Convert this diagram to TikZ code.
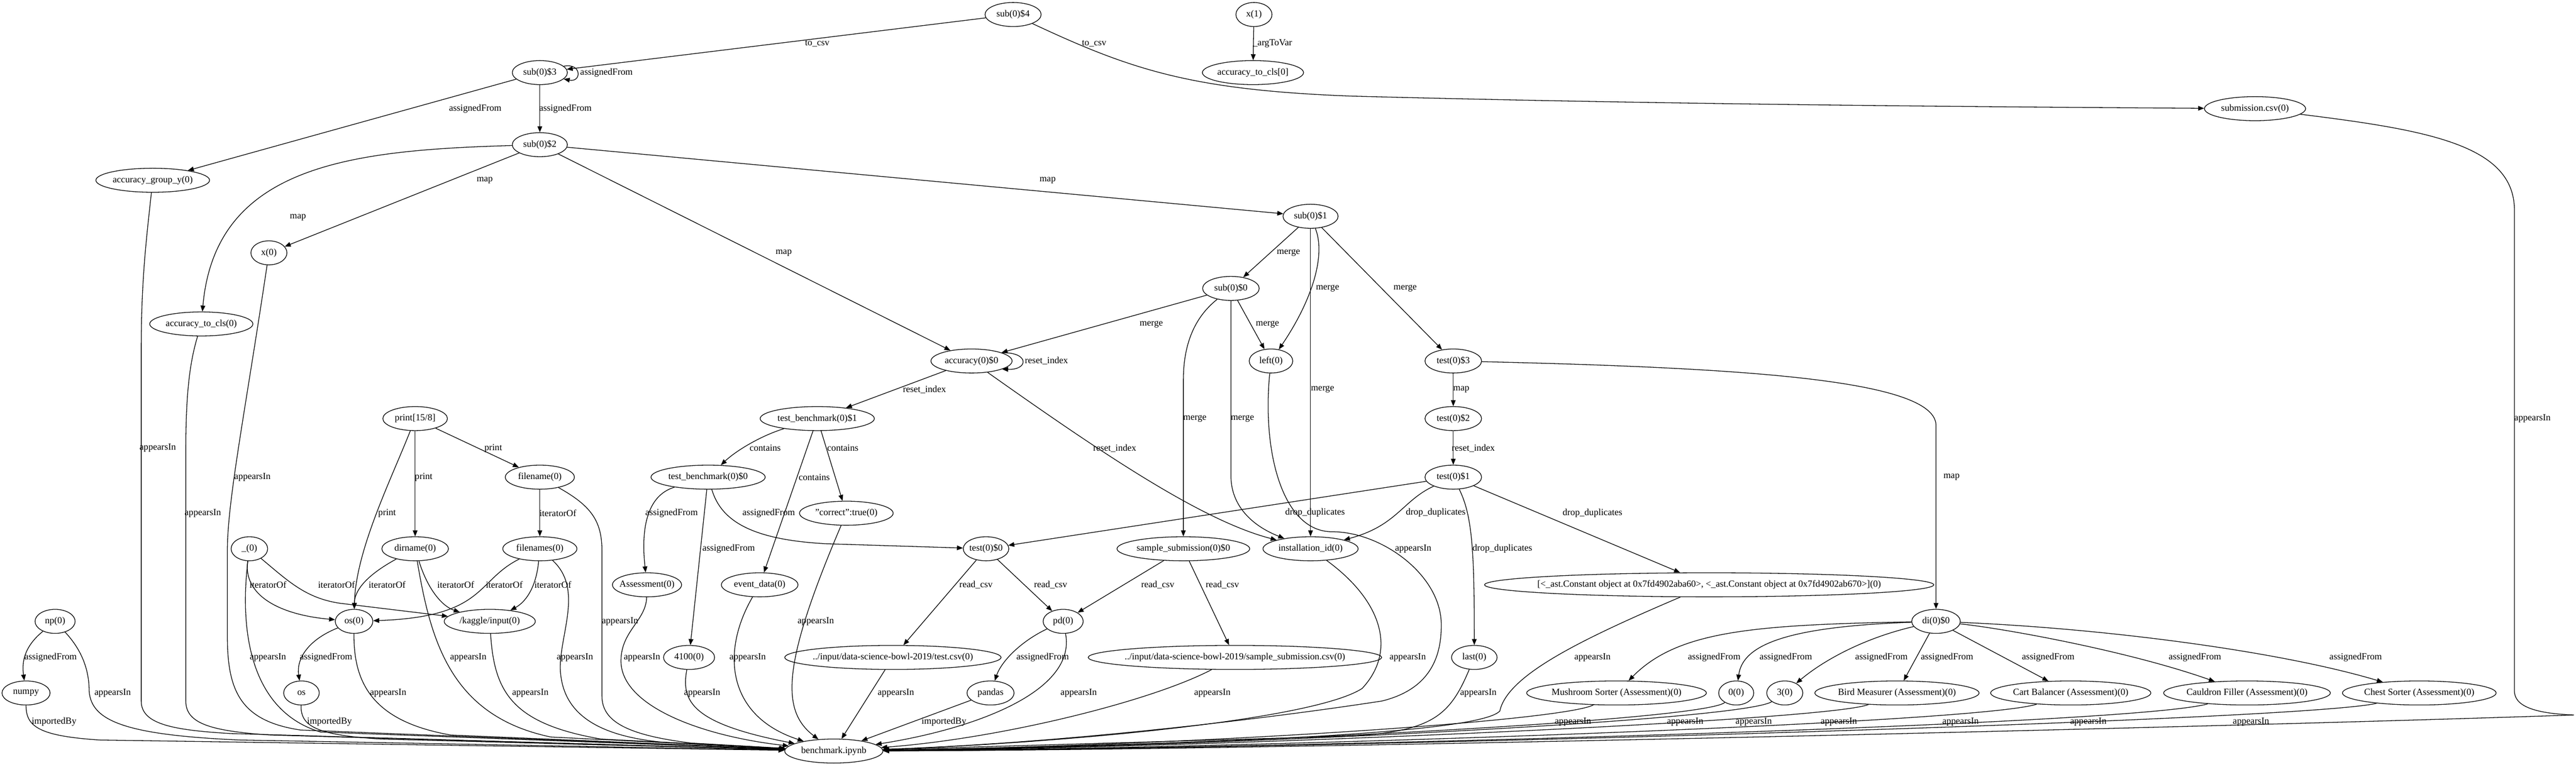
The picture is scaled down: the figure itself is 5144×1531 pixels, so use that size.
\documentclass[tikz,border=0pt]{standalone}
\usepackage{fontspec}
\setmainfont{Liberation Serif}
\usetikzlibrary{arrows.meta,shapes.geometric}

\begin{document}
\begin{tikzpicture}[x=0.75pt,y=-0.75pt,
  v/.style={ellipse,draw,line width=1pt,inner xsep=-20pt,inner ysep=0pt,minimum height=36pt,minimum width=54pt,font=\fontsize{14}{16.8}\selectfont},
  wd/.style={minimum width=#1*0.75pt},
  arr/.style={line width=1pt,-{Triangle[length=9pt,width=7pt]}},
  lab/.style={font=\fontsize{14}{16.8}\selectfont,inner sep=0pt}]
        \useasboundingbox (0,0) rectangle (5144,1531);
        \node[v,wd=112] (s4) at (2023,29) {sub(0)\$4};
        \node[v,wd=72] (x1) at (2504,29) {x(1)};
        \node[v,wd=202] (atcls) at (2502,145) {accuracy\_to\_cls[0]};
        \node[v,wd=110] (s3) at (1078,145) {sub(0)\$3};
        \node[v,wd=202] (subcsv) at (4503,217) {submission.csv(0)};
        \node[v,wd=110] (s2) at (1078,289) {sub(0)\$2};
        \node[v,wd=227] (agy) at (305,360) {accuracy\_group\_y(0)};
        \node[v,wd=110] (s1) at (2617,432) {sub(0)\$1};
        \node[v,wd=72] (x0) at (537,505) {x(0)};
        \node[v,wd=113] (s0) at (2458,576) {sub(0)\$0};
        \node[v,wd=206] (atc0) at (402,647) {accuracy\_to\_cls(0)};
        \node[v,wd=162] (acc) at (1940,721) {accuracy(0)\$0};
        \node[v,wd=87] (left) at (2538,721) {left(0)};
        \node[v,wd=113] (t3) at (2902,721) {test(0)\$3};
        \node[v,wd=129] (print) at (829,836) {print[15/8]};
        \node[v,wd=228] (tb1) at (1632,836) {test\_benchmark(0)\$1};
        \node[v,wd=113] (t2) at (2902,836) {test(0)\$2};
        \node[v,wd=138] (fname) at (1078,953) {filename(0)};
        \node[v,wd=228] (tb0) at (1414,953) {test\_benchmark(0)\$0};
        \node[v,wd=113] (t1) at (2902,953) {test(0)\$1};
        \node[v,wd=187] (corr) at (1690,1025) {"correct":true(0)};
        \node[v,wd=73] (us) at (498,1096) {\_(0)};
        \node[v,wd=133] (dname) at (829,1096) {dirname(0)};
        \node[v,wd=148] (fnames) at (1078,1096) {filenames(0)};
        \node[v,wd=91] (t0) at (1969,1096) {test(0)\$0};
        \node[v,wd=265] (ssub) at (2363,1096) {sample\_submission(0)\$0};
        \node[v,wd=190] (inst) at (2617,1096) {installation\_id(0)};
        \node[v,wd=138] (assess) at (1292,1168) {Assessment(0)};
        \node[v,wd=153] (event) at (1517,1168) {event\_data(0)};
        \node[v,wd=897] (ast) at (3413,1168) {[<\_ast.Constant object at 0x7fd4902aba60>, <\_ast.Constant object at 0x7fd4902ab670>](0)};
        \node[v,wd=80] (np) at (110,1241) {np(0)};
        \node[v,wd=75] (os0) at (707,1241) {os(0)};
        \node[v,wd=182] (kag) at (978,1241) {/kaggle/input(0)};
        \node[v,wd=80] (pd) at (2123,1241) {pd(0)};
        \node[v,wd=97] (di) at (3866,1241) {di(0)\$0};
        \node[v,wd=102] (n4100) at (1376,1313) {4100(0)};
        \node[v,wd=432] (tcsv) at (1783,1313) {../input/data-science-bowl-2019/test.csv(0)};
        \node[v,wd=586] (sscsv) at (2466,1313) {../input/data-science-bowl-2019/sample\_submission.csv(0)};
        \node[v,wd=91] (last) at (2944,1313) {last(0)};
        \node[v,wd=96] (numpy) at (52,1384) {numpy};
        \node[v,wd=71] (os) at (602,1384) {os};
        \node[v,wd=94] (pandas) at (1978,1384) {pandas};
        \node[v,wd=359] (mush) at (3228,1384) {Mushroom Sorter (Assessment)(0)};
        \node[v,wd=70] (z0) at (3467,1384) {0(0)};
        \node[v,wd=72] (three) at (3564,1384) {3(0)};
        \node[v,wd=328] (bird) at (3788,1384) {Bird Measurer (Assessment)(0)};
        \node[v,wd=320] (cart) at (4135,1384) {Cart Balancer (Assessment)(0)};
        \node[v,wd=333] (cauld) at (4487,1384) {Cauldron Filler (Assessment)(0)};
        \node[v,wd=307] (chest) at (4831,1384) {Chest Sorter (Assessment)(0)};
        \node[v,wd=196] (bench) at (1665,1500) {benchmark.ipynb};

        \draw[arr] (s4) -- (s3) node[lab,at={(1632,87)}] {to\_csv};
        \draw[arr] (s4) .. controls (2260,140) and (2380,180) .. (2700,192) .. controls (3300,208) and (3900,213) .. (subcsv) node[lab,at={(2185,87)}] {to\_csv};
        \draw[arr] (x1) -- (atcls) node[lab,at={(2541,87)}] {\_argToVar};
        \draw[arr] (s3.15) .. controls (1162,125) and (1162,165) .. (s3.-15) node[lab,anchor=west,at={(1158,145)}] {assignedFrom};
        \draw[arr] (s3) -- (agy) node[lab,at={(949,217)}] {assignedFrom};
        \draw[arr] (s3) -- (s2) node[lab,at={(1129,217)}] {assignedFrom};
        \draw[arr] (s2) -- (x0) node[lab,at={(968,360)}] {map};
        \draw[arr] (s2) .. controls (700,300) and (430,330) .. (atc0) node[lab,at={(595,434)}] {map};
        \draw[arr] (s2) -- (s1) node[lab,at={(2092,360)}] {map};
        \draw[arr] (s2) -- (acc) node[lab,at={(1565,505)}] {map};
        \draw[arr] (s1) -- (s0) node[lab,at={(2573,505)}] {merge};
        \draw[arr] (s1) .. controls (2648,510) and (2620,600) .. (left) node[lab,at={(2651,576)}] {merge};
        \draw[arr] (s1) -- (inst) node[lab,at={(2641,778)}] {merge};
        \draw[arr] (s1) -- (t3) node[lab,at={(2806,576)}] {merge};
        \draw[arr] (s0) -- (acc) node[lab,at={(2299,648)}] {merge};
        \draw[arr] (s0) -- (left) node[lab,at={(2531,648)}] {merge};
        \draw[arr] (s0) .. controls (2390,630) and (2363,680) .. (2363,760) -- (ssub) node[lab,at={(2386,836)}] {merge};
        \draw[arr] (s0) -- (2458,950) .. controls (2458,1010) and (2500,1050) .. (inst) node[lab,at={(2481,836)}] {merge};
        \draw[arr] (acc.15) .. controls (2055,703) and (2055,739) .. (acc.-15) node[lab,anchor=west,at={(2046,721)}] {reset\_index};
        \draw[arr] (acc) -- (tb1) node[lab,at={(1846,778)}] {reset\_index};
        \draw[arr] (acc) .. controls (2200,905) and (2400,1040) .. (inst) node[lab,at={(2226,895)}] {reset\_index};
        \draw[arr] (tb1) .. controls (1520,870) and (1470,900) .. (tb0) node[lab,at={(1528,895)}] {contains};
        \draw[arr] (tb1) -- (event) node[lab,at={(1626,953)}] {contains};
        \draw[arr] (tb1) -- (corr) node[lab,at={(1683,895)}] {contains};
        \draw[arr] (tb0) .. controls (1290,990) and (1280,1060) .. (assess) node[lab,at={(1341,1025)}] {assignedFrom};
        \draw[arr] (tb0) -- (n4100) node[lab,at={(1455,1096)}] {assignedFrom};
        \draw[arr] (tb0) .. controls (1440,1040) and (1500,1078) .. (1650,1086) -- (t0) node[lab,at={(1535,1025)}] {assignedFrom};
        \draw[arr] (t1) -- (t0) node[lab,at={(2626,1024)}] {drop\_duplicates};
        \draw[arr] (t0) -- (tcsv) node[lab,at={(1949,1168)}] {read\_csv};
        \draw[arr] (t0) -- (pd) node[lab,at={(2098,1168)}] {read\_csv};
        \draw[arr] (ssub) -- (pd) node[lab,at={(2312,1168)}] {read\_csv};
        \draw[arr] (ssub) -- (sscsv) node[lab,at={(2441,1168)}] {read\_csv};
        \draw[arr] (pd) .. controls (2040,1280) and (2000,1320) .. (pandas) node[lab,at={(2082,1313)}] {assignedFrom};
        \draw[arr] (t3) -- (t2) node[lab,at={(2918,778)}] {map};
        \draw[arr] (t2) -- (t1) node[lab,at={(2942,895)}] {reset\_index};
        \draw[arr] (t3) .. controls (3500,735) and (3866,760) .. (3866,850) -- (di) node[lab,at={(3897,953)}] {map};
        \draw[arr] (t1) .. controls (2800,1000) and (2790,1050) .. (inst) node[lab,at={(2867,1024)}] {drop\_duplicates};
        \draw[arr] (t1) .. controls (2940,1030) and (2944,1100) .. (last) node[lab,at={(3000,1096)}] {drop\_duplicates};
        \draw[arr] (t1) -- (ast) node[lab,at={(3180,1025)}] {drop\_duplicates};
        \draw[arr] (di) .. controls (3500,1248) and (3350,1260) .. (mush) node[lab,at={(3423,1313)}] {assignedFrom};
        \draw[arr] (di) .. controls (3560,1252) and (3480,1290) .. (z0) node[lab,at={(3566,1313)}] {assignedFrom};
        \draw[arr] (di) .. controls (3720,1275) and (3640,1320) .. (three) node[lab,at={(3757,1313)}] {assignedFrom};
        \draw[arr] (di) -- (bird) node[lab,at={(3888,1313)}] {assignedFrom};
        \draw[arr] (di) -- (cart) node[lab,at={(4090,1313)}] {assignedFrom};
        \draw[arr] (di) .. controls (4000,1255) and (4250,1300) .. (cauld) node[lab,at={(4383,1313)}] {assignedFrom};
        \draw[arr] (di) .. controls (4200,1255) and (4550,1300) .. (chest) node[lab,at={(4704,1313)}] {assignedFrom};
        \draw[arr] (print) .. controls (780,960) and (710,1100) .. (os0) node[lab,at={(773,1025)}] {print};
        \draw[arr] (print) -- (dname) node[lab,at={(846,953)}] {print};
        \draw[arr] (print) -- (fname) node[lab,at={(985,895)}] {print};
        \draw[arr] (fname) -- (fnames) node[lab,at={(1114,1025)}] {iteratorOf};
        \draw[arr] (us) .. controls (485,1190) and (560,1228) .. (os0) node[lab,at={(535,1168)}] {iteratorOf};
        \draw[arr] (us) .. controls (575,1160) and (610,1195) .. (680,1205) -- (kag) node[lab,at={(672,1168)}] {iteratorOf};
        \draw[arr] (dname) .. controls (730,1150) and (708,1180) .. (os0) node[lab,at={(773,1168)}] {iteratorOf};
        \draw[arr] (dname) .. controls (855,1180) and (885,1212) .. (kag) node[lab,at={(910,1168)}] {iteratorOf};
        \draw[arr] (fnames) .. controls (950,1160) and (970,1232) .. (os0) node[lab,at={(1007,1168)}] {iteratorOf};
        \draw[arr] (fnames) .. controls (1070,1180) and (1045,1205) .. (kag) node[lab,at={(1104,1168)}] {iteratorOf};
        \draw[arr] (np) .. controls (50,1290) and (43,1320) .. (numpy) node[lab,at={(101,1313)}] {assignedFrom};
        \draw[arr] (os0) .. controls (610,1280) and (592,1320) .. (os) node[lab,at={(651,1313)}] {assignedFrom};

        \draw[arr] (agy) .. controls (292,480) and (282,560) .. (282,700) -- (282,1400) .. controls (282,1445) and (340,1458) .. (460,1465) -- (bench) node[lab,at={(315,895)}] {appearsIn};
        \draw[arr] (x0) .. controls (490,820) and (454,1000) .. (454,1100) -- (454,1270) .. controls (454,1380) and (480,1440) .. (600,1458) -- (bench) node[lab,at={(504,953)}] {appearsIn};
        \draw[arr] (atc0) .. controls (380,720) and (371,780) .. (371,900) -- (371,1400) .. controls (371,1445) and (420,1460) .. (540,1468) -- (bench) node[lab,at={(405,1025)}] {appearsIn};
        \draw[arr] (np) .. controls (165,1300) and (178,1340) .. (178,1380) .. controls (182,1440) and (250,1468) .. (480,1478) -- (bench) node[lab,at={(225,1384)}] {appearsIn};
        \draw[arr] (numpy) .. controls (52,1450) and (75,1470) .. (200,1478) -- (bench) node[lab,at={(108,1442)}] {importedBy};
        \draw[arr] (us) .. controls (478,1260) and (500,1420) .. (640,1462) -- (bench) node[lab,at={(535,1313)}] {appearsIn};
        \draw[arr] (os0) .. controls (706,1360) and (740,1440) .. (900,1468) -- (bench) node[lab,at={(775,1384)}] {appearsIn};
        \draw[arr] (os) .. controls (600,1450) and (630,1468) .. (760,1476) -- (bench) node[lab,at={(658,1442)}] {importedBy};
        \draw[arr] (dname) .. controls (860,1280) and (900,1430) .. (1100,1472) -- (bench) node[lab,at={(935,1313)}] {appearsIn};
        \draw[arr] (kag) .. controls (987,1380) and (1020,1445) .. (1200,1476) -- (bench) node[lab,at={(1059,1384)}] {appearsIn};
        \draw[arr] (fnames) .. controls (1170,1180) and (1110,1280) .. (1120,1350) .. controls (1130,1430) and (1200,1470) .. (1320,1482) -- (bench) node[lab,at={(1148,1313)}] {appearsIn};
        \draw[arr] (fname) .. controls (1180,1010) and (1202,1040) .. (1202,1100) -- (1202,1390) .. controls (1202,1440) and (1250,1468) .. (1380,1484) -- (bench) node[lab,at={(1238,1241)}] {appearsIn};
        \draw[arr] (assess) .. controls (1290,1240) and (1240,1260) .. (1240,1320) .. controls (1240,1410) and (1400,1470) .. (bench) node[lab,at={(1282,1313)}] {appearsIn};
        \draw[arr] (n4100) .. controls (1360,1400) and (1380,1445) .. (bench) node[lab,at={(1402,1384)}] {appearsIn};
        \draw[arr] (event) .. controls (1440,1300) and (1450,1430) .. (bench) node[lab,at={(1493,1313)}] {appearsIn};
        \draw[arr] (corr) .. controls (1560,1330) and (1560,1420) .. (bench) node[lab,at={(1629,1241)}] {appearsIn};
        \draw[arr] (tcsv) -- (bench) node[lab,at={(1789,1384)}] {appearsIn};
        \draw[arr] (pandas) -- (bench) node[lab,at={(1885,1442)}] {importedBy};
        \draw[arr] (pd) .. controls (2150,1380) and (1950,1455) .. (bench) node[lab,at={(2154,1384)}] {appearsIn};
        \draw[arr] (sscsv) .. controls (2300,1400) and (2000,1475) .. (bench) node[lab,at={(2421,1384)}] {appearsIn};
        \draw[arr] (left) .. controls (2520,900) and (2560,1062) .. (2660,1062) .. controls (2760,1062) and (2880,1150) .. (2878,1250) .. controls (2878,1330) and (2840,1380) .. (2760,1400) .. controls (2500,1440) and (2100,1485) .. (bench) node[lab,at={(2822,1096)}] {appearsIn};
        \draw[arr] (inst) .. controls (2760,1200) and (2790,1300) .. (2720,1375) .. controls (2620,1440) and (2100,1485) .. (bench) node[lab,at={(2811,1313)}] {appearsIn};
        \draw[arr] (last) .. controls (2895,1430) and (2860,1460) .. (2700,1470) -- (bench) node[lab,at={(2952,1384)}] {appearsIn};
        \draw[arr] (ast) .. controls (3150,1280) and (3010,1350) .. (2995,1420) .. controls (2950,1470) and (2300,1488) .. (bench) node[lab,at={(3180,1313)}] {appearsIn};
        \draw[arr] (mush) .. controls (3120,1440) and (2400,1488) .. (bench) node[lab,at={(3141,1442)}] {appearsIn};
        \draw[arr] (z0) .. controls (3400,1440) and (2400,1490) .. (bench) node[lab,at={(3365,1442)}] {appearsIn};
        \draw[arr] (three) .. controls (3480,1440) and (2400,1492) .. (bench) node[lab,at={(3502,1442)}] {appearsIn};
        \draw[arr] (bird) .. controls (3650,1440) and (2400,1494) .. (bench) node[lab,at={(3672,1442)}] {appearsIn};
        \draw[arr] (cart) .. controls (3950,1445) and (2500,1495) .. (bench) node[lab,at={(3915,1442)}] {appearsIn};
        \draw[arr] (cauld) .. controls (4250,1450) and (2500,1496) .. (bench) node[lab,at={(4170,1442)}] {appearsIn};
        \draw[arr] (chest) .. controls (4600,1440) and (2600,1497) .. (bench) node[lab,at={(4495,1442)}] {appearsIn};
        \draw[arr] (subcsv) .. controls (4850,260) and (5021,290) .. (5021,420) -- (5021,1380) .. controls (5021,1410) and (5060,1425) .. (5140,1428) .. controls (4500,1450) and (2600,1498) .. (bench) node[lab,at={(5057,836)}] {appearsIn};
\end{tikzpicture}
\end{document}
